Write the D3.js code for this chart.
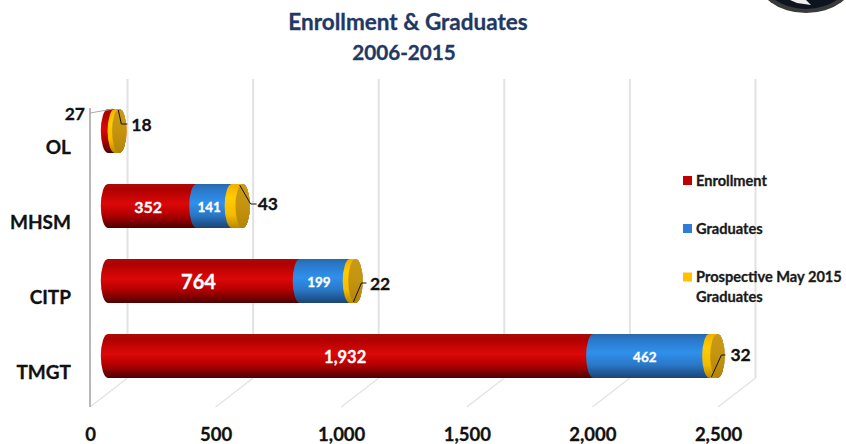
<!DOCTYPE html>
<html><head><meta charset="utf-8">
<script src="https://cdn.jsdelivr.net/npm/d3@7/dist/d3.min.js"></script>
<style>html,body{margin:0;padding:0;background:#fff}svg{display:block}text{font-family:Lato,"Open Sans",sans-serif;font-weight:700}</style>
</head><body><svg id="c" width="846" height="444"></svg>
<script>
const categories = ["OL","MHSM","CITP","TMGT"];
const enrollment = [27,352,764,1932];
const graduates = [0,141,199,462];
const prospective = [18,43,22,32];
const seriesNames = ["Enrollment","Graduates","Prospective May 2015 Graduates"];
const enrollLabels = ["27","352","764","1,932"];
const gradLabels = ["","141","199","462"];
const prospLabels = ["18","43","22","32"];
const xTicks = [0,500,1000,1500,2000,2500];

const svg = d3.select("#c");
const x = d3.scaleLinear().domain([0,2500]).range([90,718]);
const y = d3.scaleBand().domain(categories).range([109,378]).paddingInner(31/75).paddingOuter(0);
const depthX = 37.5, depthY = 29, barShift = 18, rx = 7.2;
const floorY = 407, topY = 108;
const bx = v => x(v) + barShift;
const H = y.bandwidth(), ry = H/2;

const defs = svg.append("defs");
function grad(id, stops){
  const g = defs.append("linearGradient").attr("id",id).attr("x1",0).attr("x2",0).attr("y1",0).attr("y2",1);
  stops.forEach(s=>g.append("stop").attr("offset",s[0]).attr("stop-color",s[1]));
}
grad("gRed",[[0,"#a80a0a"],[.12,"#b00000"],[.45,"#dc0808"],[.68,"#b80000"],[.88,"#780000"],[1,"#4c0000"]]);
grad("gBlue",[[0,"#2a68a8"],[.12,"#2a78c8"],[.42,"#2f90ec"],[.7,"#2a78c8"],[.9,"#1f5590"],[1,"#1c4470"]]);
grad("gYel",[[0,"#f0b000"],[.3,"#ffcc00"],[.7,"#f4bc00"],[1,"#b88800"]]);
grad("gCap",[[0,"#c89a18"],[.5,"#c4940e"],[1,"#b48408"]]);

// walls
const grid = svg.append("g");
xTicks.forEach(t=>{
  grid.append("line").attr("x1",x(t)+depthX).attr("x2",x(t)+depthX).attr("y1",topY-depthY).attr("y2",floorY-depthY).attr("stroke","#e2e2e2").attr("stroke-width",2);
  grid.append("line").attr("x1",x(t)).attr("x2",x(t)+depthX).attr("y1",floorY).attr("y2",floorY-depthY).attr("stroke","#e4e4e4").attr("stroke-width",1.5);
});
grid.append("line").attr("x1",x(0)).attr("x2",x(0)).attr("y1",topY).attr("y2",floorY).attr("stroke","#b8b8b8").attr("stroke-width",2);

// cylinders
function segPath(x0,x1,t){
  return `M${x0},${t}A${rx},${ry} 0 0 0 ${x0},${t+H}L${x1},${t+H}A${rx},${ry} 0 0 0 ${x1},${t}Z`;
}
categories.forEach((c,i)=>{
  const t = y(c);
  const a = bx(0), b = bx(enrollment[i]), d = bx(enrollment[i]+graduates[i]), e = bx(enrollment[i]+graduates[i]+prospective[i]);
  svg.append("path").attr("d",segPath(a,e,t)).attr("fill","url(#gRed)");
  if(graduates[i]>0) svg.append("path").attr("d",segPath(b,e,t)).attr("fill","url(#gBlue)");
  svg.append("path").attr("d",segPath(d,e,t)).attr("fill","url(#gYel)");
  svg.append("ellipse").attr("cx",e).attr("cy",t+ry).attr("rx",rx).attr("ry",ry).attr("fill","url(#gCap)");
});

// inside labels
const inside = [
 {i:1,s:0,fs:16,dx:-4},{i:2,s:0,fs:20,dx:-5.5},{i:3,s:0,fs:16.5,dx:-5.5},
 {i:1,s:1,fs:13.5,dx:-5},{i:2,s:1,fs:13.5,dx:-6},{i:3,s:1,fs:13.5,dx:-6.5}];
inside.forEach(o=>{
  const i=o.i, base=o.s? enrollment[i]:0, val=o.s?graduates[i]:enrollment[i];
  svg.append("text").attr("x",bx(base+val/2)+o.dx).attr("y",y(categories[i])+ry+1)
    .attr("dy",".35em").attr("text-anchor","middle").attr("fill","#fff").attr("font-size",o.fs)
    .text(o.s?gradLabels[i]:enrollLabels[i]);
});

// leaders
const L = d3.line();
function leader(pts){svg.append("path").attr("d",L(pts)).attr("fill","none").attr("stroke","#111").attr("stroke-width",1);}
const endX = i=>bx(enrollment[i]+graduates[i]+prospective[i]);
const totTop = i=>y(categories[i]);
svg.append("path").attr("d",L([[x(0),totTop(0)+4],[bx(enrollment[0])-2,totTop(0)]])).attr("fill","none").attr("stroke","#aaa");
leader([[endX(0)-1,totTop(0)+1],[endX(0)+2,totTop(0)+15],[endX(0)+8,totTop(0)+15]]);
leader([[endX(1)-3,totTop(1)+1],[endX(1)+8,totTop(1)+20],[endX(1)+14,totTop(1)+20]]);
leader([[endX(2)-2,totTop(2)+43],[endX(2)+6,totTop(2)+24],[endX(2)+11,totTop(2)+24]]);
leader([[endX(3)-6,totTop(3)+43],[endX(3)+4,totTop(3)+21],[endX(3)+8,totTop(3)+21]]);
// outer labels
const outer = [[0,12,16],[1,15,20],[2,14.5,25],[3,13,21]];
outer.forEach(([i,dx,dy])=>{
  svg.append("text").attr("x",endX(i)+dx).attr("y",totTop(i)+dy).attr("dy",".35em").attr("font-size",17.5).attr("fill","#111").text(prospLabels[i]);
});
svg.append("text").attr("x",85).attr("y",114).attr("dy",".35em").attr("text-anchor","end").attr("font-size",17.5).attr("fill","#111").text(enrollLabels[0]);

// category labels
categories.forEach(c=>{
  svg.append("text").attr("x",71).attr("y",y(c)+ry+16).attr("dy",".35em").attr("text-anchor","end").attr("font-size",19).attr("fill","#111").text(c);
});

// x axis
const ax = svg.append("g").attr("transform","translate(0,425)")
  .call(d3.axisBottom(x).tickValues(xTicks).tickFormat(d3.format(",")).tickSize(0));
ax.select(".domain").remove();
ax.attr("font-family",null);
ax.selectAll("text").attr("font-size",18.5).attr("fill","#111");

// title
svg.append("text").attr("x",408).attr("y",29.5).attr("text-anchor","middle").attr("font-size",22.5).attr("fill","#1f3864").text("Enrollment & Graduates");
svg.append("text").attr("x",404).attr("y",60).attr("text-anchor","middle").attr("font-size",20.7).attr("fill","#1f3864").text("2006-2015");

// legend
const legendColors = ["#c00000","#2e7dd7","#ffc000"];
const legendY = [180.5,228.5,277];
seriesNames.forEach((n,i)=>{
  svg.append("rect").attr("x",683).attr("y",legendY[i]-4.5).attr("width",9).attr("height",9).attr("fill",legendColors[i]);
  const t = svg.append("text").attr("x",696).attr("y",legendY[i]).attr("dy",".35em").attr("font-size",14.6).attr("fill","#1a1a1a");
  if(i<2) t.text(n);
  else {
    t.text("Prospective May 2015");
    svg.append("text").attr("x",696).attr("y",legendY[i]+19.5).attr("dy",".35em").attr("font-size",14.6).attr("fill","#1a1a1a").text("Graduates");
  }
});

// logo fragment, top right
const logo = svg.append("g");
logo.append("ellipse").attr("cx",806).attr("cy",-24).attr("rx",50).attr("ry",37).attr("fill","#3a3a3a");
logo.append("ellipse").attr("cx",806).attr("cy",-26).attr("rx",46).attr("ry",35).attr("fill","#0d1420");
logo.append("path").attr("d","M790,0L806,0L811,5L797,3Z").attr("fill","#eee");

// heavier strokes on all text, matching the reference's dense bold
svg.selectAll("text").each(function(){
  const s = d3.select(this);
  s.attr("stroke", s.attr("fill")).attr("stroke-width",0.3);
});
</script></body></html>
